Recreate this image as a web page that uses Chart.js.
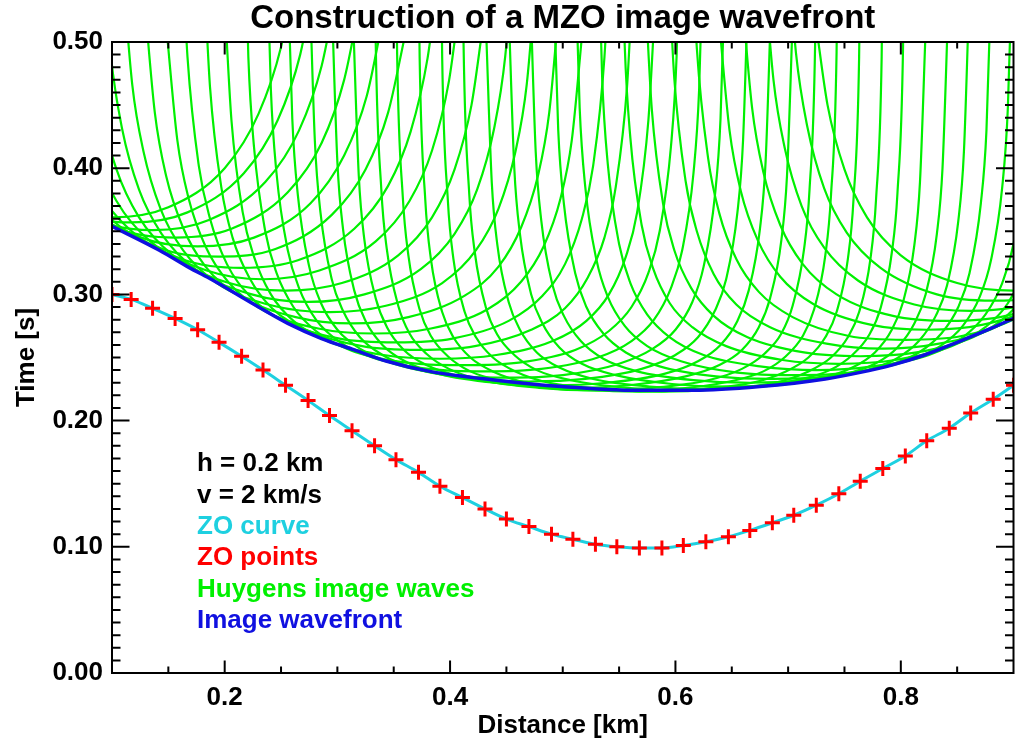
<!DOCTYPE html>
<html>
<head>
<meta charset="utf-8">
<script src="https://cdn.jsdelivr.net/npm/chart.js@4.4.0/dist/chart.umd.min.js"></script>
<style>
html,body{margin:0;padding:0;background:#ffffff;}
#wrap{width:1024px;height:746px;}
</style>
</head>
<body>
<div id="wrap"><canvas id="c" width="1024" height="746"></canvas></div>
<script>
// ---- ZO points (distance km, time s) ----
const zoX = [0.100, 0.117, 0.136, 0.156, 0.176, 0.195, 0.215, 0.234, 0.254, 0.274, 0.293, 0.313, 0.333, 0.352,
             0.372, 0.391, 0.411, 0.431, 0.450, 0.470, 0.490, 0.509, 0.529, 0.548, 0.568, 0.588, 0.607, 0.627,
             0.647, 0.666, 0.686, 0.705, 0.725, 0.745, 0.764, 0.784, 0.804, 0.823, 0.843, 0.862, 0.882, 0.900];
const zoT = [0.300, 0.296, 0.289, 0.281, 0.272, 0.262, 0.251, 0.240, 0.228, 0.216, 0.204, 0.192, 0.180, 0.169,
             0.159, 0.148, 0.139, 0.130, 0.122, 0.116, 0.110, 0.106, 0.102, 0.100, 0.099, 0.099, 0.101, 0.104,
             0.108, 0.113, 0.119, 0.125, 0.133, 0.142, 0.152, 0.162, 0.172, 0.184, 0.194, 0.206, 0.217, 0.228];

// ---- Image wavefront (envelope) ----
const frontX = [0.100, 0.142, 0.169, 0.186, 0.213, 0.230, 0.256, 0.286, 0.315, 0.344, 0.382, 0.441, 0.499,
                0.567, 0.616, 0.675, 0.733, 0.763, 0.792, 0.821, 0.850, 0.880, 0.900];
const frontT = [0.354, 0.335, 0.321, 0.313, 0.299, 0.290, 0.277, 0.265, 0.256, 0.247, 0.239, 0.232, 0.227,
                0.224, 0.224, 0.227, 0.233, 0.238, 0.244, 0.252, 0.262, 0.273, 0.281];

// ---- Huygens image waves: time at distance offsets from each ZO point (symmetric) ----
const waveOffsets = [0, 0.05, 0.1, 0.13, 0.15, 0.165, 0.175, 0.185, 0.19, 0.195, 0.198];
const waveT = [
  [0.361, 0.369, 0.400, 0.443, 0.496, 0.567],
  [0.357, 0.365, 0.396, 0.438, 0.490, 0.561],
  [0.351, 0.359, 0.389, 0.430, 0.481, 0.549],
  [0.345, 0.352, 0.381, 0.420, 0.470, 0.536],
  [0.338, 0.345, 0.372, 0.410, 0.457, 0.521],
  [0.330, 0.336, 0.363, 0.399, 0.444, 0.505],
  [0.321, 0.327, 0.352, 0.386, 0.429, 0.487, 0.556],
  [0.312, 0.319, 0.342, 0.374, 0.414, 0.469, 0.535],
  [0.303, 0.309, 0.331, 0.361, 0.399, 0.450, 0.512],
  [0.294, 0.300, 0.320, 0.348, 0.383, 0.431, 0.489, 0.603],
  [0.286, 0.291, 0.309, 0.335, 0.368, 0.413, 0.466, 0.573],
  [0.277, 0.282, 0.299, 0.322, 0.353, 0.394, 0.444, 0.543],
  [0.269, 0.273, 0.288, 0.310, 0.338, 0.376, 0.422, 0.514],
  [0.262, 0.265, 0.279, 0.299, 0.324, 0.360, 0.402, 0.488, 0.577],
  [0.256, 0.259, 0.272, 0.289, 0.313, 0.345, 0.385, 0.464, 0.547],
  [0.249, 0.252, 0.263, 0.279, 0.300, 0.330, 0.365, 0.438, 0.514],
  [0.244, 0.246, 0.256, 0.271, 0.290, 0.317, 0.350, 0.417, 0.488, 0.657],
  [0.239, 0.241, 0.250, 0.263, 0.280, 0.305, 0.335, 0.396, 0.462, 0.618],
  [0.234, 0.236, 0.245, 0.257, 0.272, 0.294, 0.322, 0.378, 0.439, 0.584],
  [0.231, 0.233, 0.241, 0.252, 0.266, 0.287, 0.312, 0.365, 0.422, 0.559],
  [0.228, 0.230, 0.237, 0.247, 0.260, 0.279, 0.303, 0.352, 0.405, 0.534],
  [0.226, 0.228, 0.235, 0.244, 0.256, 0.274, 0.297, 0.343, 0.394, 0.517],
  [0.224, 0.226, 0.232, 0.241, 0.253, 0.269, 0.291, 0.335, 0.383, 0.501, 0.750],
  [0.224, 0.225, 0.231, 0.239, 0.251, 0.267, 0.288, 0.331, 0.378, 0.492, 0.737],
  [0.223, 0.225, 0.230, 0.239, 0.250, 0.266, 0.286, 0.328, 0.375, 0.488, 0.730],
  [0.223, 0.225, 0.230, 0.239, 0.250, 0.266, 0.286, 0.328, 0.375, 0.488, 0.730],
  [0.224, 0.226, 0.232, 0.240, 0.252, 0.268, 0.289, 0.333, 0.380, 0.497, 0.743],
  [0.225, 0.227, 0.233, 0.242, 0.254, 0.272, 0.294, 0.339, 0.389, 0.509],
  [0.227, 0.229, 0.236, 0.245, 0.258, 0.277, 0.300, 0.348, 0.400, 0.526],
  [0.230, 0.232, 0.239, 0.249, 0.263, 0.283, 0.307, 0.358, 0.413, 0.546],
  [0.233, 0.235, 0.243, 0.254, 0.269, 0.290, 0.317, 0.372, 0.430, 0.572],
  [0.236, 0.238, 0.247, 0.259, 0.275, 0.298, 0.327, 0.385, 0.448, 0.597],
  [0.240, 0.243, 0.252, 0.266, 0.284, 0.309, 0.340, 0.403, 0.471, 0.631],
  [0.245, 0.248, 0.259, 0.274, 0.293, 0.321, 0.355, 0.424, 0.497, 0.669],
  [0.251, 0.254, 0.266, 0.283, 0.305, 0.335, 0.372, 0.447, 0.526],
  [0.257, 0.261, 0.274, 0.292, 0.316, 0.350, 0.390, 0.471, 0.556],
  [0.264, 0.267, 0.282, 0.302, 0.328, 0.364, 0.408, 0.495, 0.586],
  [0.272, 0.276, 0.292, 0.314, 0.343, 0.382, 0.430, 0.524],
  [0.279, 0.283, 0.300, 0.324, 0.355, 0.397, 0.448, 0.548],
  [0.287, 0.292, 0.311, 0.337, 0.370, 0.416, 0.470, 0.578],
  [0.295, 0.300, 0.321, 0.349, 0.384, 0.433, 0.491, 0.605],
  [0.303, 0.309, 0.331, 0.361, 0.399, 0.450, 0.512]
];

// ---- Axis ticks ----
const xTickLabels = [0.2, 0.4, 0.6, 0.8];
const xMinorTicks = [0.15, 0.25, 0.3, 0.35, 0.45, 0.5, 0.55, 0.65, 0.7, 0.75, 0.85];
const yTickLabels = [0.0, 0.1, 0.2, 0.3, 0.4, 0.5];
const yMinorTicks = [0.01,0.02,0.03,0.04,0.05,0.06,0.07,0.08,0.09,
                     0.11,0.12,0.13,0.14,0.15,0.16,0.17,0.18,0.19,
                     0.21,0.22,0.23,0.24,0.25,0.26,0.27,0.28,0.29,
                     0.31,0.32,0.33,0.34,0.35,0.36,0.37,0.38,0.39,
                     0.41,0.42,0.43,0.44,0.45,0.46,0.47,0.48,0.49];

// ---- Annotation text ----
const CYAN = 'rgb(30,208,224)';
const RED = '#ff0000';
const GREEN = '#00f000';
const BLUE = '#1010e0';
const noteLines  = ['h = 0.2 km', 'v = 2 km/s', 'ZO curve', 'ZO points', 'Huygens image waves', 'Image wavefront'];
const noteColors = ['#000000', '#000000', CYAN, RED, GREEN, BLUE];

const FONT = '"Liberation Sans", Arial, Helvetica, sans-serif';
Chart.defaults.font.family = FONT;
Chart.defaults.color = '#000';

function wavePoints(x0, ts) {
  const pts = [];
  for (let j = ts.length - 1; j > 0; j--) pts.push({x: x0 - waveOffsets[j], y: ts[j]});
  for (let j = 0; j < ts.length; j++) pts.push({x: x0 + waveOffsets[j], y: ts[j]});
  return pts;
}

const datasets = [];
datasets.push({
  label: 'ZO points',
  data: zoX.map((x, i) => ({x: x, y: zoT[i]})),
  showLine: false,
  pointStyle: 'cross',
  pointRadius: 7.5,
  pointBorderWidth: 3,
  pointBorderColor: RED,
  pointBackgroundColor: RED,
  order: 0,
  clip: 0
});
datasets.push({
  label: 'ZO curve',
  data: zoX.map((x, i) => ({x: x, y: zoT[i]})),
  borderColor: CYAN,
  borderWidth: 3,
  pointRadius: 0,
  cubicInterpolationMode: 'monotone',
  order: 1,
  clip: 0
});
datasets.push({
  label: 'Image wavefront',
  data: frontX.map((x, i) => ({x: x, y: frontT[i]})),
  borderColor: BLUE,
  borderWidth: 3.5,
  pointRadius: 0,
  cubicInterpolationMode: 'monotone',
  order: 2,
  clip: 0
});
zoX.forEach((x0, i) => {
  datasets.push({
    label: 'Huygens image wave ' + i,
    data: wavePoints(x0, waveT[i]),
    borderColor: GREEN,
    borderWidth: 2.2,
    pointRadius: 0,
    cubicInterpolationMode: 'monotone',
    order: 3,
    clip: 0
  });
});

const framePlugin = {
  id: 'frame',
  afterDatasetsDraw(chart) {
    const {ctx, chartArea: a, scales: {x, y}} = chart;
    ctx.save();
    ctx.strokeStyle = '#000';
    ctx.lineWidth = 2;
    ctx.beginPath();
    const xt = (vals, len) => vals.forEach(v => {
      const p = x.getPixelForValue(v);
      ctx.moveTo(p, a.bottom); ctx.lineTo(p, a.bottom - len);
      ctx.moveTo(p, a.top); ctx.lineTo(p, a.top + len);
    });
    const yt = (vals, len) => vals.forEach(v => {
      const p = y.getPixelForValue(v);
      ctx.moveTo(a.left, p); ctx.lineTo(a.left + len, p);
      ctx.moveTo(a.right, p); ctx.lineTo(a.right - len, p);
    });
    xt(xTickLabels, 12.5);
    xt(xMinorTicks, 6.5);
    yt(yTickLabels, 17.5);
    yt(yMinorTicks, 8.5);
    ctx.stroke();
    ctx.strokeRect(a.left, a.top, a.right - a.left, a.bottom - a.top);

    ctx.font = 'bold 26px ' + FONT;
    ctx.textAlign = 'left';
    ctx.textBaseline = 'middle';
    noteLines.forEach((s, i) => {
      ctx.fillStyle = noteColors[i];
      ctx.fillText(s, a.left + 85, a.top + 422 + i * 31.4);
    });
    ctx.restore();
  }
};

new Chart(document.getElementById('c'), {
  type: 'line',
  data: {datasets: datasets},
  options: {
    responsive: false,
    devicePixelRatio: 1,
    animation: false,
    events: [],
    layout: {padding: {left: 11, right: 1, top: 0, bottom: 5}},
    plugins: {
      legend: {display: false},
      tooltip: {enabled: false},
      title: {
        display: true,
        fullSize: false,
        text: 'Construction of a MZO image wavefront',
        color: '#000',
        font: {size: 33, weight: 'bold', lineHeight: 1},
        padding: {top: 2, bottom: 7}
      }
    },
    scales: {
      x: {
        type: 'linear',
        min: 0.1,
        max: 0.9,
        afterBuildTicks: s => { s.ticks = xTickLabels.map(v => ({value: v})); },
        afterFit: s => { s.height = 68; },
        grid: {display: false, drawTicks: false},
        border: {display: false},
        ticks: {
          padding: 9,
          maxRotation: 0,
          color: '#000',
          font: {size: 26, weight: 'bold'},
          callback: v => Number(v).toFixed(1)
        },
        title: {display: true, text: 'Distance [km]', color: '#000', font: {size: 26, weight: 'bold'}, padding: 0}
      },
      y: {
        type: 'linear',
        min: 0,
        max: 0.5,
        afterBuildTicks: s => { s.ticks = yTickLabels.map(v => ({value: v})); },
        afterFit: s => { s.width = 101; },
        grid: {display: false, drawTicks: false},
        border: {display: false},
        ticks: {
          padding: 9,
          color: '#000',
          font: {size: 26, weight: 'bold'},
          callback: v => Number(v).toFixed(2)
        },
        title: {display: true, text: 'Time [s]', color: '#000', font: {size: 26, weight: 'bold'}, padding: 0}
      }
    }
  },
  plugins: [framePlugin]
});
</script>
</body>
</html>
